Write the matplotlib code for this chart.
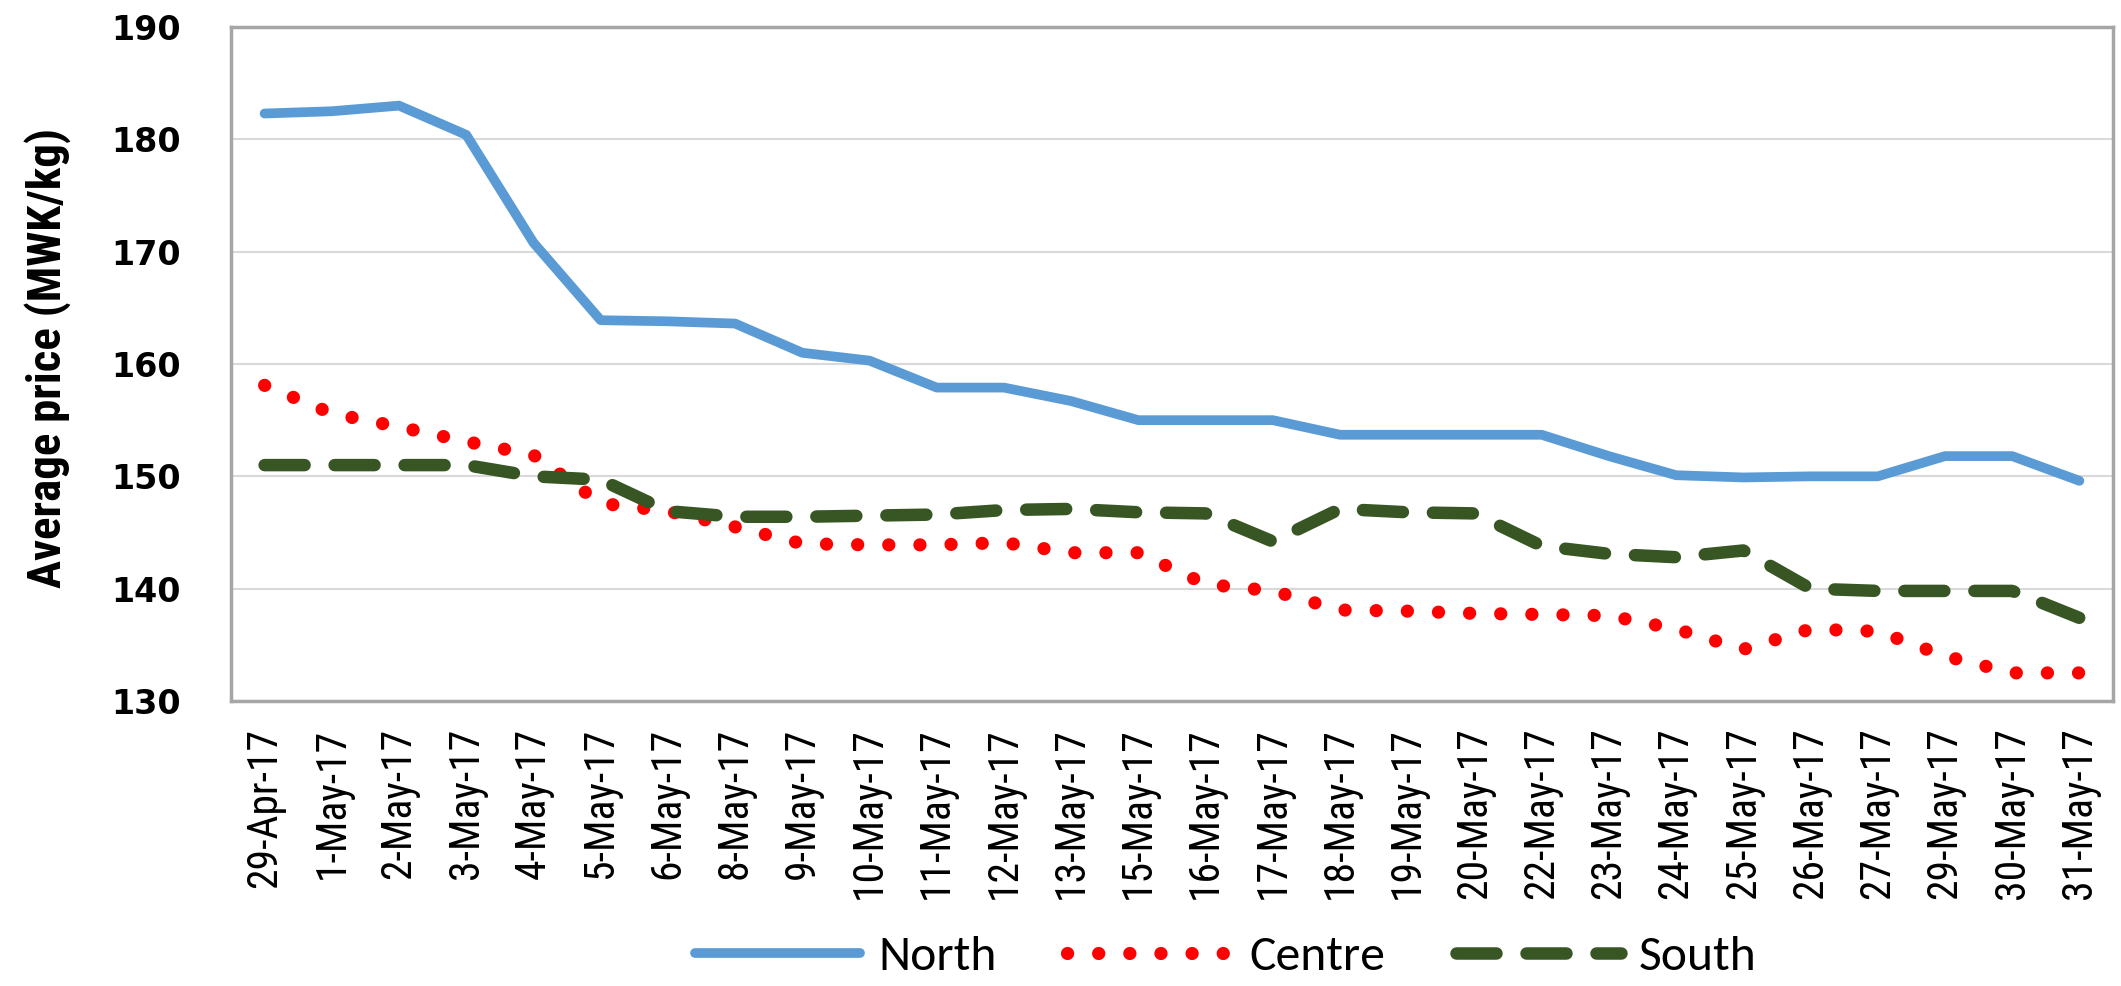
import matplotlib
matplotlib.use("Agg")
import matplotlib.pyplot as plt
from matplotlib import font_manager as fm
import numpy as np

DATES = ["29-Apr-17", "1-May-17", "2-May-17", "3-May-17", "4-May-17", "5-May-17",
         "6-May-17", "8-May-17", "9-May-17", "10-May-17", "11-May-17", "12-May-17",
         "13-May-17", "15-May-17", "16-May-17", "17-May-17", "18-May-17", "19-May-17",
         "20-May-17", "22-May-17", "23-May-17", "24-May-17", "25-May-17", "26-May-17",
         "27-May-17", "29-May-17", "30-May-17", "31-May-17"]

NORTH = [182.3, 182.5, 183.0, 180.4, 170.8, 163.9, 163.8, 163.6, 161.0, 160.3,
         157.9, 157.9, 156.7, 155.0, 155.0, 155.0, 153.7, 153.7, 153.7, 153.7,
         151.8, 150.1, 149.9, 150.0, 150.0, 151.8, 151.8, 149.6]
CENTRE = [158.1, 155.6, 154.4, 153.1, 151.9, 147.6, 146.9, 145.5, 144.0, 143.9,
          143.9, 144.1, 143.2, 143.2, 140.4, 139.8, 138.1, 138.0, 137.8, 137.7,
          137.6, 136.4, 134.6, 136.4, 136.2, 134.0, 132.5, 132.5]
SOUTH = [151.0, 151.0, 151.0, 151.0, 150.0, 149.7, 146.9, 146.4, 146.4, 146.5,
         146.6, 147.0, 147.1, 146.8, 146.7, 144.2, 147.1, 146.8, 146.7, 143.8,
         143.1, 142.8, 143.4, 140.0, 139.8, 139.8, 139.8, 137.4]

BLUE  = "#5B9BD5"
RED   = "#FF0000"
GREEN = "#375623"
FRAME = "#A6A6A6"
GRID  = "#D9D9D9"

names = {f.name for f in fm.fontManager.ttflist}
def first(cands):
    return next((n for n in cands if n in names), "DejaVu Sans")
NARROW = first(["Liberation Sans Narrow", "Arial Narrow", "Roboto Condensed"])
HUMAN  = first(["Carlito", "Calibri", "Lato", "Open Sans"])

W, H = 2121, 986
fig = plt.figure(figsize=(W / 100, H / 100), dpi=100)
ax = fig.add_axes([231/W, 1 - 701/H, (2113 - 231)/W, (701 - 27)/H])

x = np.arange(len(DATES))
ax.plot(x, NORTH, color=BLUE, lw=7, solid_capstyle="round", solid_joinstyle="round",
        label="North", zorder=3)
ax.plot(x, CENTRE, color=RED, lw=9.5, linestyle=(0, (0.01, 2.35)),
        dash_capstyle="round", label="Centre", zorder=3)
ax.plot(x, SOUTH, color=GREEN, lw=9, linestyle=(0, (3.2, 2.4)),
        dash_capstyle="round", label="South", zorder=3)

ax.set_xlim(-0.5, len(DATES) - 0.5)
ax.set_ylim(130, 190)
ax.set_yticks(np.arange(130, 191, 10))
ax.set_xticks(x)
ax.set_xticklabels(DATES, rotation=90, ha="center", va="top",
                   family=[NARROW, "DejaVu Sans"], fontsize=30)
for lbl in ax.get_yticklabels():
    lbl.set_family("DejaVu Sans")
    lbl.set_fontweight("bold")
    lbl.set_fontsize(24)
ax.tick_params(axis="x", length=0, pad=19)
ax.tick_params(axis="y", length=0, pad=36)

ax.yaxis.grid(True, color=GRID, lw=1.5, zorder=0)
for s in ax.spines.values():
    s.set_color(FRAME)
    s.set_linewidth(2.5)

ylab = fig.text(48/W, 1 - 358/H, "Average price (MWK/kg)", rotation=90,
                ha="center", va="center", family=[NARROW, "DejaVu Sans"],
                fontweight="bold", fontsize=33)

# size texts to the reference's pixel lengths
fig.canvas.draw()
r = fig.canvas.get_renderer()
lbls = ax.get_xticklabels()
k = 160 / lbls[0].get_window_extent(r).height
for lbl in lbls:
    lbl.set_fontsize(30 * k)
ylab.set_fontsize(33 * 460 / ylab.get_window_extent(r).height)

probe = fig.text(0, 0, "North", family=[HUMAN, "DejaVu Sans"], fontsize=30)
lsize = 30 * 118 / probe.get_window_extent(r).width
probe.remove()
em = lsize * 100 / 72
fig.legend(loc="center", bbox_to_anchor=(0.578, 1 - 957/H), ncol=3, frameon=False,
           prop={"family": [HUMAN, "DejaVu Sans"], "size": lsize},
           handlelength=165/em, handletextpad=18/em, columnspacing=70/em,
           borderpad=0.1)

fig.savefig("out.png", dpi=100, facecolor="white")
